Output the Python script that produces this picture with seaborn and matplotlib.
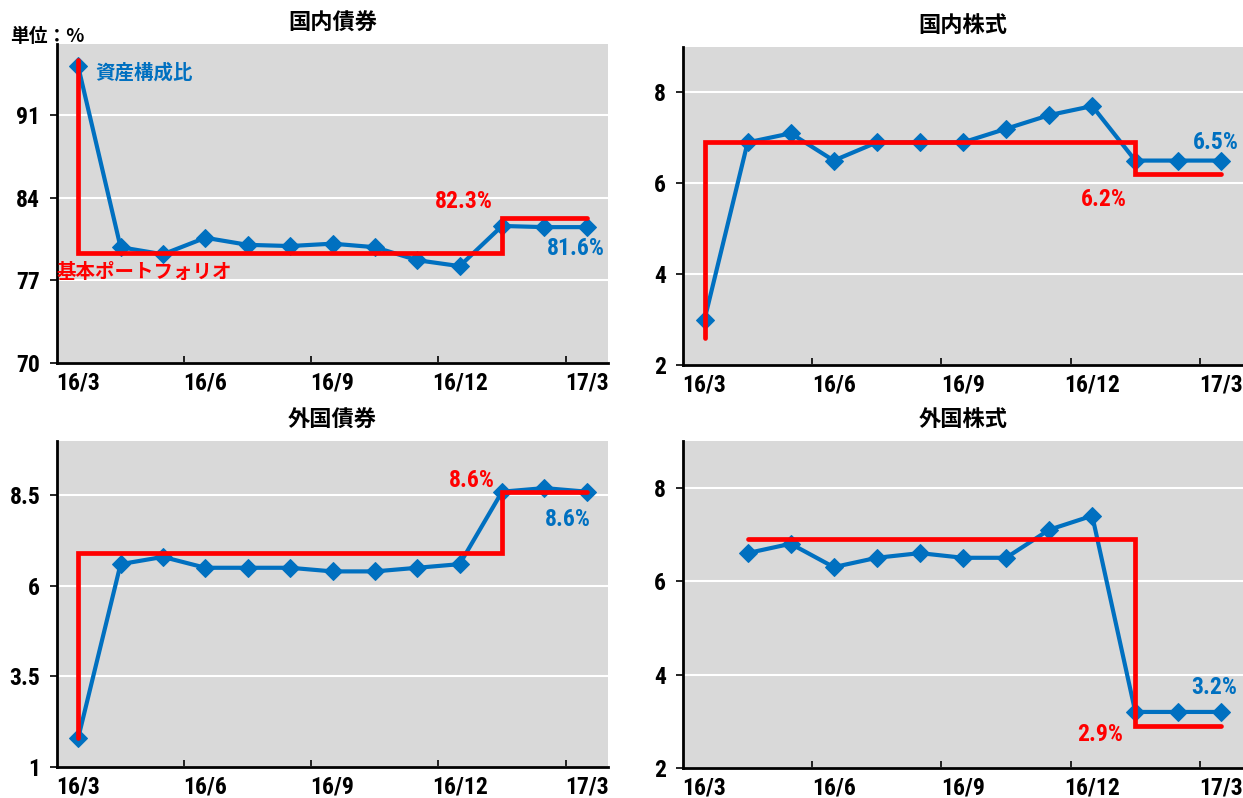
import matplotlib
matplotlib.use("Agg")
import matplotlib.pyplot as plt
import seaborn as sns
import numpy as np
import pandas as pd
import logging
logging.getLogger("matplotlib.font_manager").setLevel(logging.ERROR)

sns.set_theme(style="white")
FONT = ['Roboto Condensed', 'Archivo Narrow', 'Noto Sans CJK JP', 'DejaVu Sans']
CJK = ['Noto Sans CJK JP', 'DejaVu Sans']
plt.rcParams['font.family'] = FONT
plt.rcParams['font.weight'] = 'bold'

# ---------------- data ----------------
months = ["16/3", "16/4", "16/5", "16/6", "16/7", "16/8", "16/9",
          "16/10", "16/11", "16/12", "17/1", "17/2", "17/3"]
tick_labels = ["16/3", "16/6", "16/9", "16/12", "17/3"]

titles = ["国内債券", "国内株式", "外国債券", "外国株式"]

dom_bond_actual = [95.1, 79.8, 79.2, 80.6, 80.0, 79.9, 80.1, 79.8, 78.7, 78.2, 81.6, 81.5, 81.5]
dom_bond_policy = [79.3, 79.3, 79.3, 79.3, 79.3, 79.3, 79.3, 79.3, 79.3, 79.3, 82.3, 82.3, 82.3]
dom_bond_prev = 95.65

dom_eq_actual = [3.0, 6.9, 7.1, 6.5, 6.9, 6.9, 6.9, 7.2, 7.5, 7.7, 6.5, 6.5, 6.5]
dom_eq_policy = [6.9, 6.9, 6.9, 6.9, 6.9, 6.9, 6.9, 6.9, 6.9, 6.9, 6.2, 6.2, 6.2]
dom_eq_prev = 2.6

for_bond_actual = [1.8, 6.6, 6.8, 6.5, 6.5, 6.5, 6.4, 6.4, 6.5, 6.6, 8.6, 8.7, 8.6]
for_bond_policy = [6.9, 6.9, 6.9, 6.9, 6.9, 6.9, 6.9, 6.9, 6.9, 6.9, 8.6, 8.6, 8.6]
for_bond_prev = 1.8

for_eq_actual = [np.nan, 6.6, 6.8, 6.3, 6.5, 6.6, 6.5, 6.5, 7.1, 7.4, 3.2, 3.2, 3.2]
for_eq_policy = [np.nan, 6.9, 6.9, 6.9, 6.9, 6.9, 6.9, 6.9, 6.9, 6.9, 2.9, 2.9, 2.9]
for_eq_prev = np.nan

yticks = [[70, 77, 84, 91], [2, 4, 6, 8], [1, 3.5, 6, 8.5], [2, 4, 6, 8]]
ytick_text = [["70", "77", "84", "91"], ["2", "4", "6", "8"],
              ["1", "3.5", "6", "8.5"], ["2", "4", "6", "8"]]
ylims = [(70, 97), (2, 9), (1, 10), (2, 9)]

actuals = [dom_bond_actual, dom_eq_actual, for_bond_actual, for_eq_actual]
policies = [dom_bond_policy, dom_eq_policy, for_bond_policy, for_eq_policy]
prevs = [dom_bond_prev, dom_eq_prev, for_bond_prev, for_eq_prev]

BLUE = "#0070C0"
RED = "#FF0000"
notes = [
    [("資産構成比", 0.4, 94.55, BLUE, "left"),
     ("基本ポートフォリオ", -0.5, 77.7, RED, "left"),
     ("82.3%", 9.1, 83.7, RED, "center"),
     ("81.6%", 11.75, 79.65, BLUE, "center")],
    [("6.5%", 11.88, 6.89, BLUE, "center"),
     ("6.2%", 9.28, 5.65, RED, "center")],
    [("8.6%", 9.28, 8.92, RED, "center"),
     ("8.6%", 11.55, 7.82, BLUE, "center")],
    [("3.2%", 11.84, 3.73, BLUE, "center"),
     ("2.9%", 9.19, 2.71, RED, "center")],
]

# ---------------- figure ----------------
W, H = 1243, 798
fig = plt.figure(figsize=(W / 100, H / 100), dpi=100)
fig.patch.set_facecolor("white")

rects_px = [(57, 44, 608, 363), (683, 47, 1243, 365),
            (57, 441, 608, 767), (683, 441, 1243, 768)]

x = np.arange(len(months))
for i in range(4):
    l, t, r, b = rects_px[i]
    ax = fig.add_axes([l / W, 1 - b / H, (r - l) / W, (b - t) / H])
    ax.set_facecolor("#D9D9D9")

    act = np.array(actuals[i], dtype=float)
    pol = np.array(policies[i], dtype=float)
    df = pd.DataFrame({"x": x, "v": act}).dropna()

    valid = ~np.isnan(pol)
    px = list(x[valid])
    py = list(pol[valid])
    if not np.isnan(prevs[i]):
        px = [px[0]] + px
        py = [prevs[i]] + py
    ax.plot(px, py, color=RED, linewidth=3.4, drawstyle="steps-post",
            zorder=4, solid_joinstyle="miter")

    sns.lineplot(data=df, x="x", y="v", ax=ax, color=BLUE, linewidth=3,
                 marker="D", markersize=9, markeredgecolor=BLUE,
                 markerfacecolor=BLUE, estimator=None, sort=False, zorder=3)

    ax.set_xlim(-0.5, len(months) - 0.5)
    ax.set_ylim(*ylims[i])
    ax.set_yticks(yticks[i])
    ax.set_yticklabels(ytick_text[i])
    ax.set_xticks([months.index(m) for m in tick_labels])
    ax.set_xticklabels(tick_labels)
    ax.set_xticks([2.5, 5.5, 8.5, 11.5], minor=True)
    ax.grid(axis="y", color="white", linewidth=1.5)
    ax.set_axisbelow(True)
    ax.set_xlabel("")
    ax.set_ylabel("")

    for s in ["top", "right"]:
        ax.spines[s].set_visible(False)
    for s in ["left", "bottom"]:
        ax.spines[s].set_color("black")
        ax.spines[s].set_linewidth(2)

    ax.tick_params(axis="x", which="major", length=0, pad=6,
                   labelsize=17, labelcolor="black")
    ax.tick_params(axis="x", which="minor", direction="in", length=5,
                   width=1.2, color="black", bottom=True)
    ax.tick_params(axis="y", which="major", direction="out", length=5,
                   width=1.2, color="black", left=True, pad=7,
                   labelsize=17, labelcolor="black")
    for lab in ax.get_xticklabels() + ax.get_yticklabels():
        lab.set_fontweight("bold")
        lab.set_family(FONT)

    ax.text(0.5, 1 + 21 / (b - t), titles[i], transform=ax.transAxes,
            ha="center", va="center", fontsize=16, fontweight="bold",
            color="black", family=CJK)

    for (txt, tx, ty, col, ha) in notes[i]:
        pct = "%" in txt
        ax.text(tx, ty, txt, color=col, ha=ha, va="center",
                fontsize=17 if pct else 14, fontweight="bold",
                family=FONT if pct else CJK, zorder=6)

fig.text(10 / W, 1 - 37 / H, "単位：%", ha="left", va="center",
         fontsize=13.5, fontweight="bold", color="black", family=CJK)

fig.savefig("out.png", dpi=100, facecolor="white")
